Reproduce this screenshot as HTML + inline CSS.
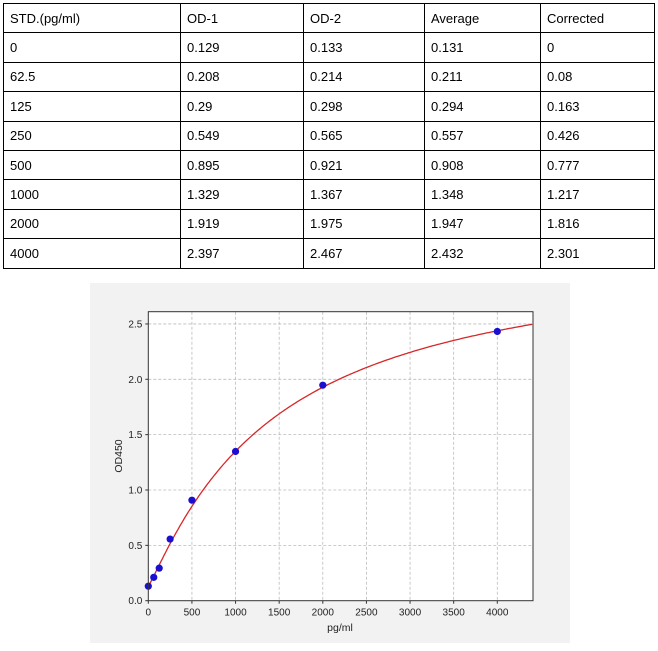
<!DOCTYPE html>
<html><head><meta charset="utf-8"><style>
body{margin:0;width:658px;height:651px;background:#fff;position:relative;font-family:"Liberation Sans",sans-serif;}
table{position:absolute;left:3px;top:3px;border-collapse:collapse;font-size:13px;color:#000;}
td{border:1px solid #000;height:29.4px;padding:0 0 0 6px;box-sizing:border-box;}
</style></head><body>
<table>
<tr><td style="width:177px">STD.(pg/ml)</td><td style="width:123px">OD-1</td><td style="width:121px">OD-2</td><td style="width:116px">Average</td><td style="width:114px">Corrected</td></tr>
<tr><td>0</td><td>0.129</td><td>0.133</td><td>0.131</td><td>0</td></tr>
<tr><td>62.5</td><td>0.208</td><td>0.214</td><td>0.211</td><td>0.08</td></tr>
<tr><td>125</td><td>0.29</td><td>0.298</td><td>0.294</td><td>0.163</td></tr>
<tr><td>250</td><td>0.549</td><td>0.565</td><td>0.557</td><td>0.426</td></tr>
<tr><td>500</td><td>0.895</td><td>0.921</td><td>0.908</td><td>0.777</td></tr>
<tr><td>1000</td><td>1.329</td><td>1.367</td><td>1.348</td><td>1.217</td></tr>
<tr><td>2000</td><td>1.919</td><td>1.975</td><td>1.947</td><td>1.816</td></tr>
<tr><td>4000</td><td>2.397</td><td>2.467</td><td>2.432</td><td>2.301</td></tr>
</table>
<svg id="c" width="658" height="651" style="position:absolute;left:0;top:0" font-family="Liberation Sans, DejaVu Sans, sans-serif"></svg>
<script>
var s='';
s+='<rect x="90" y="283" width="480" height="360" fill="#f2f2f2"/>';
var L=148.3,R=533,T=311.7,B=600.7;
s+='<rect x="'+L+'" y="'+T+'" width="'+(R-L)+'" height="'+(B-T)+'" fill="#fff"/>';
function X(v){return L+v*0.08725;}function Y(v){return B-v*110.7;}
for(var i=0;i<=4000;i+=500){var x=X(i);
 if(i>0)s+='<line x1="'+x+'" y1="'+T+'" x2="'+x+'" y2="'+B+'" stroke="#bbb" stroke-dasharray="3,2" stroke-width="0.8"/>';
 s+='<line x1="'+x+'" y1="'+B+'" x2="'+x+'" y2="'+(B+3)+'" stroke="#333"/>';
 s+='<text x="'+x+'" y="'+(B+15)+'" font-size="10" text-anchor="middle" fill="#222">'+i+'</text>';}
for(var j=0;j<=5;j++){var v=j*0.5,y=Y(v);
 if(j>0)s+='<line x1="'+L+'" y1="'+y+'" x2="'+R+'" y2="'+y+'" stroke="#bbb" stroke-dasharray="3,2" stroke-width="0.8"/>';
 s+='<line x1="'+(L-3)+'" y1="'+y+'" x2="'+L+'" y2="'+y+'" stroke="#333"/>';
 s+='<text x="'+(L-6)+'" y="'+(y+3.5)+'" font-size="10" text-anchor="end" fill="#222">'+v.toFixed(1)+'</text>';}
var p=[];for(var x=0;x<=4410;x+=20){var t=Math.pow(x/1460,1.1);var yv=0.13+3.07*t/(1+t);p.push(X(x).toFixed(1)+','+Y(yv).toFixed(1));}
s+='<polyline points="'+p.join(' ')+'" fill="none" stroke="#d62728" stroke-width="1.3"/>';
[[0,0.131],[62.5,0.211],[125,0.294],[250,0.557],[500,0.908],[1000,1.348],[2000,1.947],[4000,2.432]].forEach(function(d){s+='<circle cx="'+X(d[0])+'" cy="'+Y(d[1])+'" r="3.6" fill="#1a0fd0"/>';});
s+='<rect x="'+L+'" y="'+T+'" width="'+(R-L)+'" height="'+(B-T)+'" fill="none" stroke="#333" stroke-width="1"/>';
s+='<text x="340" y="631" font-size="10.5" text-anchor="middle" fill="#222">pg/ml</text>';
s+='<text transform="translate(122,456) rotate(-90)" font-size="10.5" text-anchor="middle" fill="#222">OD450</text>';
document.getElementById('c').innerHTML=s;
</script>
</body></html>
